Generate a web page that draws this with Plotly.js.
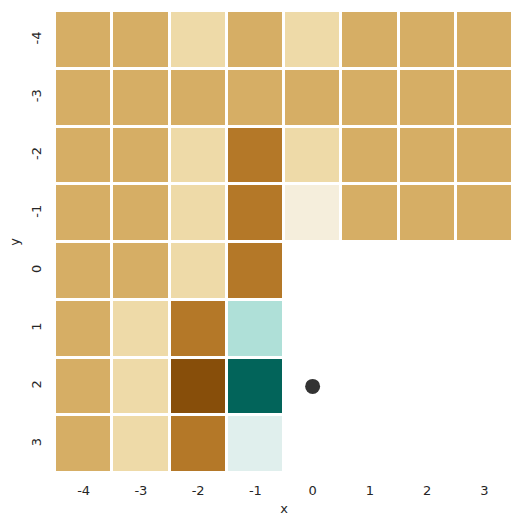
<!DOCTYPE html>
<html>
<head>
<meta charset="utf-8">
<script src="https://cdn.plot.ly/plotly-3.0.1.min.js"></script>
<style>
  html, body { margin: 0; padding: 0; background: #fff; }
  #chart { width: 525px; height: 525px; }
</style>
</head>
<body>
<div id="chart"></div>
<script>
// grid positions
var xVals = [-4, -3, -2, -1, 0, 1, 2, 3];
var yVals = [-4, -3, -2, -1, 0, 1, 2, 3];

// colour level of each cell (0 = darkest brown ... 7 = darkest teal), null = empty
var levelColors = ['#874e0a', '#b47828', '#d6ae65', '#eedaa8', '#f5eedc', '#e0efed', '#afe0d8', '#02645a'];
var cellLevels = [
  [2, 2, 3, 2, 3, 2, 2, 2],
  [2, 2, 2, 2, 2, 2, 2, 2],
  [2, 2, 3, 1, 3, 2, 2, 2],
  [2, 2, 3, 1, 4, 2, 2, 2],
  [2, 2, 3, 1, null, null, null, null],
  [2, 3, 1, 6, null, null, null, null],
  [2, 3, 0, 7, null, null, null, null],
  [2, 3, 1, 5, null, null, null, null]
];

// marker point
var pointX = [0];
var pointY = [2];

// stepped colourscale from the level colours
var n = levelColors.length;
var colorscale = [];
levelColors.forEach(function (c, i) {
  colorscale.push([i / n, c]);
  colorscale.push([(i + 1) / n, c]);
});

var heat = {
  type: 'heatmap',
  x: xVals,
  y: yVals,
  z: cellLevels,
  zmin: -0.5,
  zmax: n - 0.5,
  colorscale: colorscale,
  showscale: false,
  xgap: 3,
  ygap: 3,
  hoverongaps: false
};

var dot = {
  type: 'scatter',
  mode: 'markers',
  x: pointX,
  y: pointY,
  marker: { color: '#333333', size: 15 },
  showlegend: false
};

var tickFont = { family: 'DejaVu Sans', size: 13, color: '#262626' };

var layout = {
  width: 525,
  height: 525,
  margin: { l: 55, r: 12, t: 11, b: 52 },
  paper_bgcolor: '#ffffff',
  plot_bgcolor: '#ffffff',
  showlegend: false,
  xaxis: {
    range: [-4.5, 3.5],
    tickvals: xVals,
    ticktext: xVals.map(String),
    showgrid: false,
    zeroline: false,
    showline: false,
    ticks: '',
    ticklabelstandoff: 8,
    tickfont: tickFont,
    title: { text: 'x', font: tickFont, standoff: 6 }
  },
  yaxis: {
    range: [3.5, -4.5],
    tickvals: yVals,
    ticktext: yVals.map(String),
    tickangle: -90,
    showgrid: false,
    zeroline: false,
    showline: false,
    ticks: '',
    ticklabelstandoff: 10,
    tickfont: tickFont,
    title: { text: 'y', font: tickFont, standoff: 6 }
  }
};

Plotly.newPlot('chart', [heat, dot], layout, { displayModeBar: false, staticPlot: true });
</script>
</body>
</html>
